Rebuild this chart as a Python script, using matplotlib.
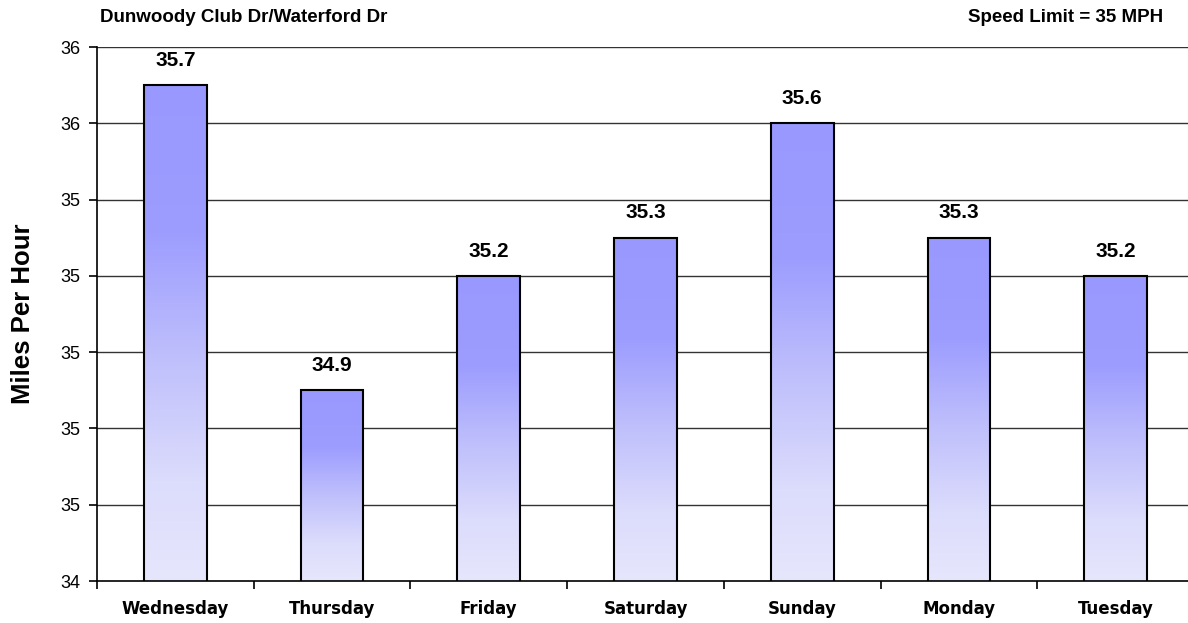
import matplotlib
matplotlib.use("Agg")
import matplotlib.pyplot as plt
import numpy as np
from matplotlib.colors import LinearSegmentedColormap
from matplotlib.ticker import FixedLocator, FuncFormatter

days = ["Wednesday", "Thursday", "Friday", "Saturday", "Sunday", "Monday", "Tuesday"]
speeds = [35.7, 34.9, 35.2, 35.3, 35.6, 35.3, 35.2]
y_ticks = [34.4, 34.6, 34.8, 35.0, 35.2, 35.4, 35.6, 35.8]
title_left = "Dunwoody Club Dr/Waterford Dr"
title_right = "Speed Limit = 35 MPH"

fig = plt.figure(figsize=(11.88, 6.23), dpi=100)
ax = fig.add_axes([97/1188, 1-581/623, 1097/1188, (581-47)/623])

ymin, ymax = y_ticks[0], y_ticks[-1]

cmap = LinearSegmentedColormap.from_list("g", [
    (0.0, "#9898fe"), (0.3, "#9d9dff"), (0.55, "#bfbffc"),
    (0.8, "#dcdcfc"), (1.0, "#e6e6fd")])
grad = np.linspace(0, 1, 256).reshape(-1, 1)

ax.yaxis.set_major_locator(FixedLocator(y_ticks))
for y in y_ticks[1:]:
    ax.axhline(y, color="#333333", lw=1.0, zorder=1)

w = 0.4
bars = ax.bar(range(len(days)), speeds, width=w, bottom=0, color="none",
              edgecolor="black", lw=1.5, zorder=3)
for i, (b, v) in enumerate(zip(bars, speeds)):
    x0 = i - w/2
    ax.imshow(grad, cmap=cmap, aspect="auto", extent=[x0, x0+w, ymin, v],
              origin="upper", zorder=2, interpolation="bilinear")
    ax.text(i, v + 0.04, f"{v:.1f}", ha="center", va="bottom",
            fontsize=15, fontweight="bold", family="Liberation Sans")
ax.set_xlim(-0.5, len(days)-0.5)
ax.set_ylim(ymin, ymax)

ax.yaxis.set_major_formatter(FuncFormatter(lambda v, p: f"{v:.0f}"))
ax.set_xticks(range(len(days)))
ax.set_xticklabels(days, fontsize=12, fontweight="bold", family="DejaVu Sans")
ax.set_xticks(np.arange(-0.5, len(days), 1.0), minor=True)
ax.tick_params(axis="x", which="major", length=0, pad=14)
ax.tick_params(axis="x", which="minor", length=6, direction="out", width=1.2)
ax.tick_params(axis="y", length=6, direction="out", width=1.2, labelsize=13, pad=6)
for t in ax.get_yticklabels():
    t.set_family("Liberation Sans")

for s in ["top", "right"]:
    ax.spines[s].set_visible(False)
ax.spines["left"].set_linewidth(1.2)
ax.spines["bottom"].set_linewidth(1.2)
ax.spines["bottom"].set_zorder(4)

ax.set_ylabel("Miles Per Hour", fontsize=18.5, fontweight="bold",
              family="Liberation Sans", labelpad=18)
fig.text(100/1188, 1-18/623, title_left, fontsize=13.5, fontweight="bold",
         family="Liberation Sans", ha="left", va="center")
fig.text(1163/1188, 1-18/623, title_right, fontsize=13.5, fontweight="bold",
         family="Liberation Sans", ha="right", va="center")

fig.savefig("out.png", dpi=100)
